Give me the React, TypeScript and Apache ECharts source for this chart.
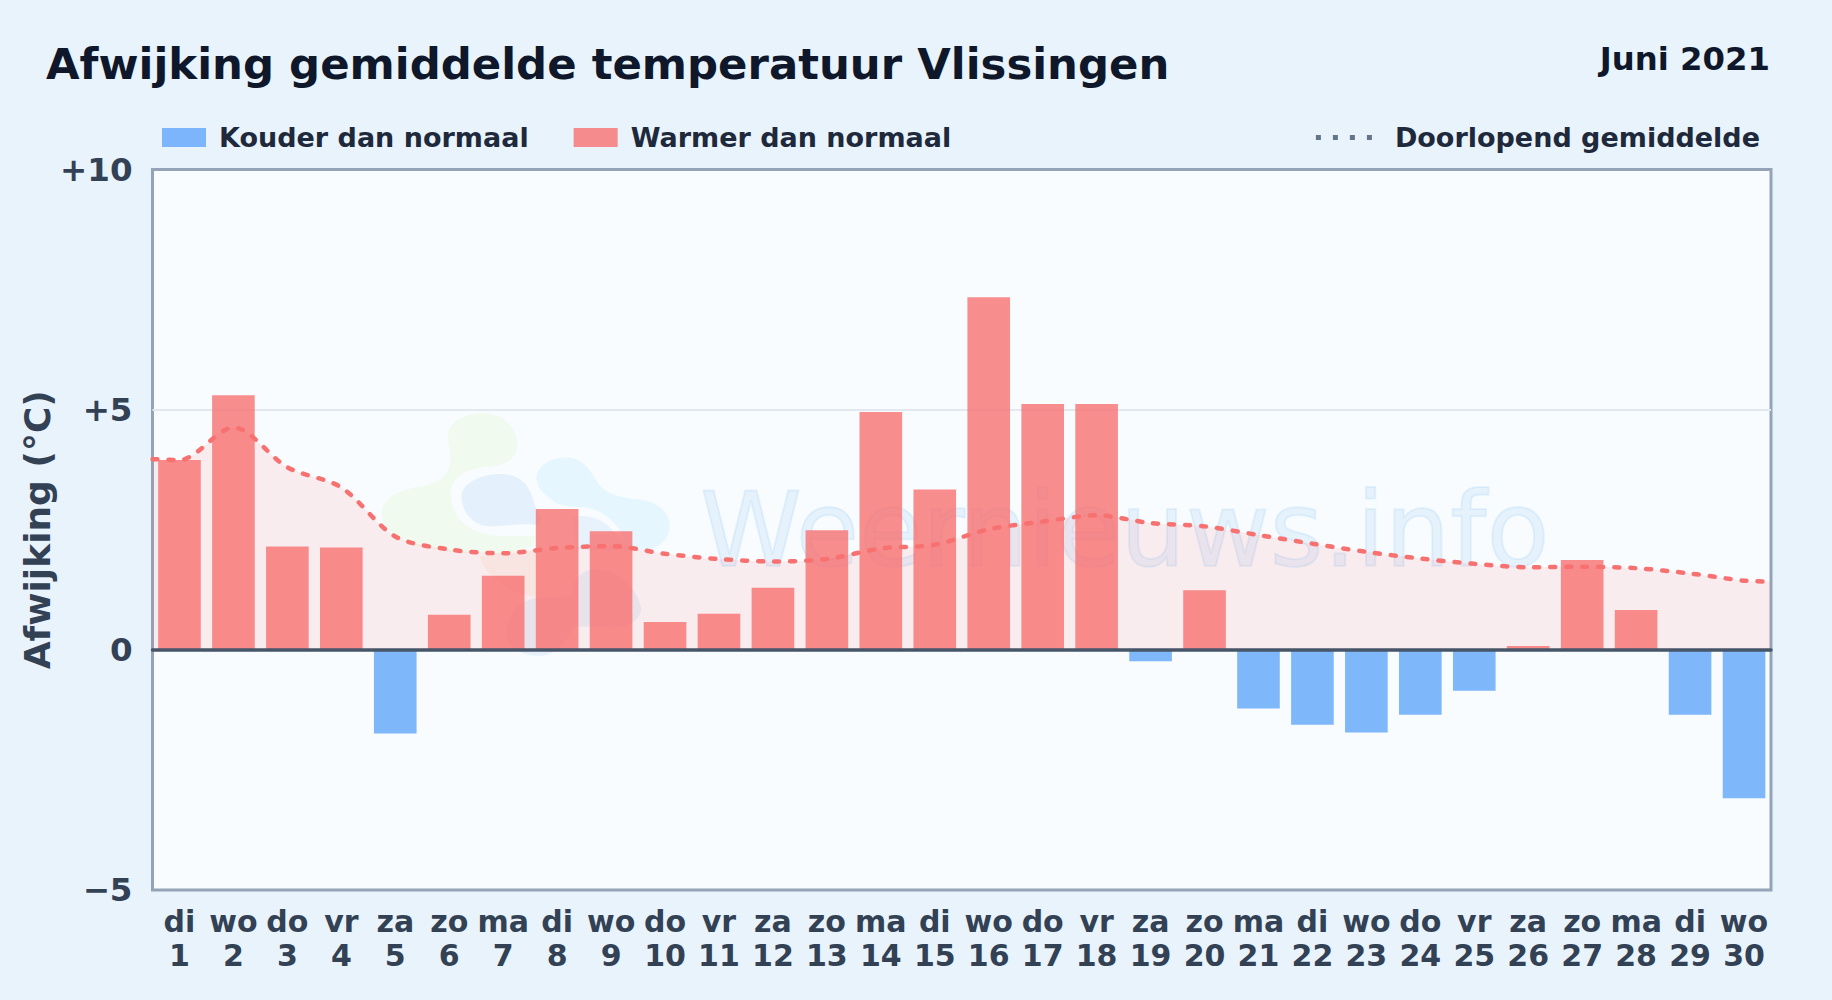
import React, { useEffect, useRef } from "react";
import * as echarts from "echarts";

const weekdays = ["di","wo","do","vr","za","zo","ma","di","wo","do","vr","za","zo","ma","di","wo","do","vr","za","zo","ma","di","wo","do","vr","za","zo","ma","di","wo"];
const dates = ["1","2","3","4","5","6","7","8","9","10","11","12","13","14","15","16","17","18","19","20","21","22","23","24","25","26","27","28","29","30"];
const deviations = [3.95,5.3,2.15,2.13,-1.74,0.73,1.54,2.93,2.47,0.58,0.75,1.29,2.49,4.95,3.34,7.34,5.12,5.12,-0.24,1.24,-1.22,-1.56,-1.72,-1.35,-0.85,0.08,1.87,0.83,-1.35,-3.09];
const runningMean = [3.95,4.63,3.8,3.38,2.36,2.09,2.01,2.12,2.16,2.0,1.89,1.84,1.89,2.11,2.19,2.51,2.67,2.8,2.64,2.57,2.39,2.21,2.04,1.9,1.79,1.72,1.73,1.7,1.59,1.44];
const meanAtLeftEdge = 3.97;
const meanAtRightEdge = 1.42;

const FONT = "'DejaVu Sans'";
const DOTTED_ICON = "path://M0 0h5v5H0z M17 0h5v5H17z M34 0h5v5H34z M51 0h5v5H51z";

const LOGO_SHAPES: [string, string, string, number][] = [
  ["wmGreen", "M265 100 C270 60 330 38 375 40 C430 42 470 80 472 130 C474 175 440 195 400 198 C340 205 300 210 275 260 C265 310 290 370 350 395 C400 415 470 405 530 410 L520 440 C440 470 300 465 200 445 C120 430 60 390 65 335 C70 290 130 265 190 258 C250 248 275 210 272 170 C268 140 262 120 265 100 Z", "#a3e635", 0.08],
  ["wmDark", "M305 285 C310 245 370 220 430 222 C490 226 510 265 520 300 C530 340 560 365 530 375 C480 370 440 378 390 380 C340 378 302 335 305 285 Z", "#1d78d0", 0.09],
  ["wmLight", "M530 230 C535 190 590 165 640 175 C680 185 695 220 715 250 C745 290 800 295 850 300 C905 310 935 350 930 385 C925 425 890 450 850 450 L800 440 C790 390 750 340 690 325 C640 318 600 325 570 295 C545 275 528 255 530 230 Z", "#38bdf8", 0.09],
  ["wmOrange", "M360 470 C400 460 480 450 530 445 L530 590 C490 590 440 570 410 540 C385 520 365 495 360 470 Z", "#fb923c", 0.08],
  ["wmLower", "M440 700 C440 640 480 600 530 595 L640 590 C630 560 650 520 690 510 C770 500 830 560 845 625 C840 670 790 690 720 680 L640 680 C620 730 590 765 540 768 C490 770 440 745 440 700 Z", "#1d78d0", 0.08],
  ["wmCircle", "M640 352 C680 340 740 360 760 395 L820 450 L650 450 Z", "#1d78d0", 0.07],
];

export default function App() {
  const ref = useRef<HTMLDivElement>(null);

  useEffect(() => {
    document.body.style.margin = "0";
    LOGO_SHAPES.forEach(([name, d]) => {
      echarts.graphic.registerShape(name, echarts.graphic.extendPath(d, {}));
    });
    const chart = echarts.init(ref.current!, undefined, { renderer: "svg" });

    const categories = weekdays.map((d, i) => `${d}\n${dates[i]}`);
    const warm = deviations.map((v) => (v > 0 ? v : null));
    const cold = deviations.map((v) => (v < 0 ? v : null));
    const meanLine = [
      [0, meanAtLeftEdge],
      ...runningMean.map((v, i) => [i + 0.5, v]),
      [dates.length, meanAtRightEdge],
    ];

    chart.setOption({
      animation: false,
      backgroundColor: "#e8f3fc",
      textStyle: { fontFamily: FONT },
      title: [
        {
          text: "Afwijking gemiddelde temperatuur Vlissingen",
          left: 46, top: 42,
          padding: 0,
          textStyle: { fontFamily: FONT, fontWeight: "bold", fontSize: 43.4, color: "#0f172a" },
        },
        {
          text: "Juni 2021",
          right: 62, top: 43,
          padding: 0,
          textStyle: { fontFamily: FONT, fontWeight: "bold", fontSize: 32.3, color: "#0f172a" },
        },
      ],
      legend: [
        {
          data: [
            { name: "Kouder dan normaal", icon: "rect" },
            { name: "Warmer dan normaal", icon: "rect" },
          ],
          left: 162, top: 124, padding: 0,
          itemWidth: 44, itemHeight: 19, itemGap: 45,
          textStyle: { fontFamily: FONT, fontWeight: "bold", fontSize: 27, color: "#1e293b", padding: [0, 0, 0, 8] },
        },
        {
          data: [{ name: "Doorlopend gemiddelde", icon: DOTTED_ICON }],
          right: 72, top: 124, padding: 0,
          itemWidth: 56, itemHeight: 19,
          itemStyle: { color: "#64748b" },
          textStyle: { fontFamily: FONT, fontWeight: "bold", fontSize: 27, color: "#1e293b", padding: [0, 0, 0, 18] },
        },
      ],
      grid: {
        left: 152.5, right: 61, top: 169.5, bottom: 110,
        show: true, backgroundColor: "#f8fcff", borderColor: "#94a3b8", borderWidth: 3,
      },
      xAxis: [
        {
          type: "category",
          data: categories,
          axisLine: { show: false, onZero: false },
          axisTick: { show: false },
          axisLabel: {
            interval: 0, margin: 14,
            fontFamily: FONT, fontWeight: "bold", fontSize: 30, lineHeight: 34, color: "#334155",
          },
        },
        {
          type: "value", min: 0, max: dates.length, position: "bottom",
          axisLine: { show: true, onZero: true, lineStyle: { color: "#475569", width: 3.5 } },
          axisTick: { show: false },
          axisLabel: { show: false },
          splitLine: { show: false },
          z: 5,
        },
      ],
      yAxis: {
        type: "value", min: -5, max: 10, interval: 5,
        axisLine: { show: false },
        axisTick: { show: false },
        splitLine: { showMinLine: false, showMaxLine: false, lineStyle: { color: "#e2e8f0", width: 2 } },
        axisLabel: {
          margin: 20, fontFamily: FONT, fontWeight: "bold", fontSize: 32.5, color: "#334155",
          formatter: (v: number) => (v > 0 ? `+${v}` : v < 0 ? `\u2212${Math.abs(v)}` : "0"),
        },
        name: "Afwijking (\u00b0C)",
        nameLocation: "middle", nameGap: 97, nameRotate: 90, nameMoveOverlap: false,
        nameTextStyle: { fontFamily: FONT, fontWeight: "bold", fontSize: 36, color: "#334155" },
      },
      series: [
        {
          name: "Kouder dan normaal", type: "bar", data: cold,
          barWidth: "79%", barGap: "-100%",
          itemStyle: { color: "rgba(96,165,250,0.8)" },
        },
        {
          name: "Warmer dan normaal", type: "bar", data: warm,
          barWidth: "79%", barGap: "-100%",
          itemStyle: { color: "rgba(248,113,113,0.8)" },
        },
        {
          name: "Doorlopend gemiddelde", type: "line", xAxisIndex: 1, data: meanLine,
          showSymbol: false, symbol: "none", smooth: 0.3, z: 4,
          lineStyle: { color: "#f87171", width: 4.5, type: [5, 11], cap: "round" },
          areaStyle: { color: "rgba(254,113,113,0.16)" },
          itemStyle: { color: "#f87171" },
        },
      ],
      graphic: [
        {
          type: "group", silent: true, z: 1,
          children: [
            ...LOGO_SHAPES.map(([name, , fill, opacity]) => ({
              type: name, x: 360, y: 400, scaleX: 1 / 3, scaleY: 1 / 3, z: 1,
              style: { fill, opacity },
            })),
            {
              type: "text", x: 700, y: 530, z: 1,
              style: {
                text: "Weernieuws.info", fontFamily: FONT, fontSize: 103,
                fill: "#2f8fdc", stroke: "#2f8fdc", lineWidth: 2, opacity: 0.09, verticalAlign: "middle",
              },
            },
          ],
        },
      ],
    });
    return () => chart.dispose();
  }, []);

  return <div ref={ref} style={{ width: 1832, height: 1000 }} />;
}
